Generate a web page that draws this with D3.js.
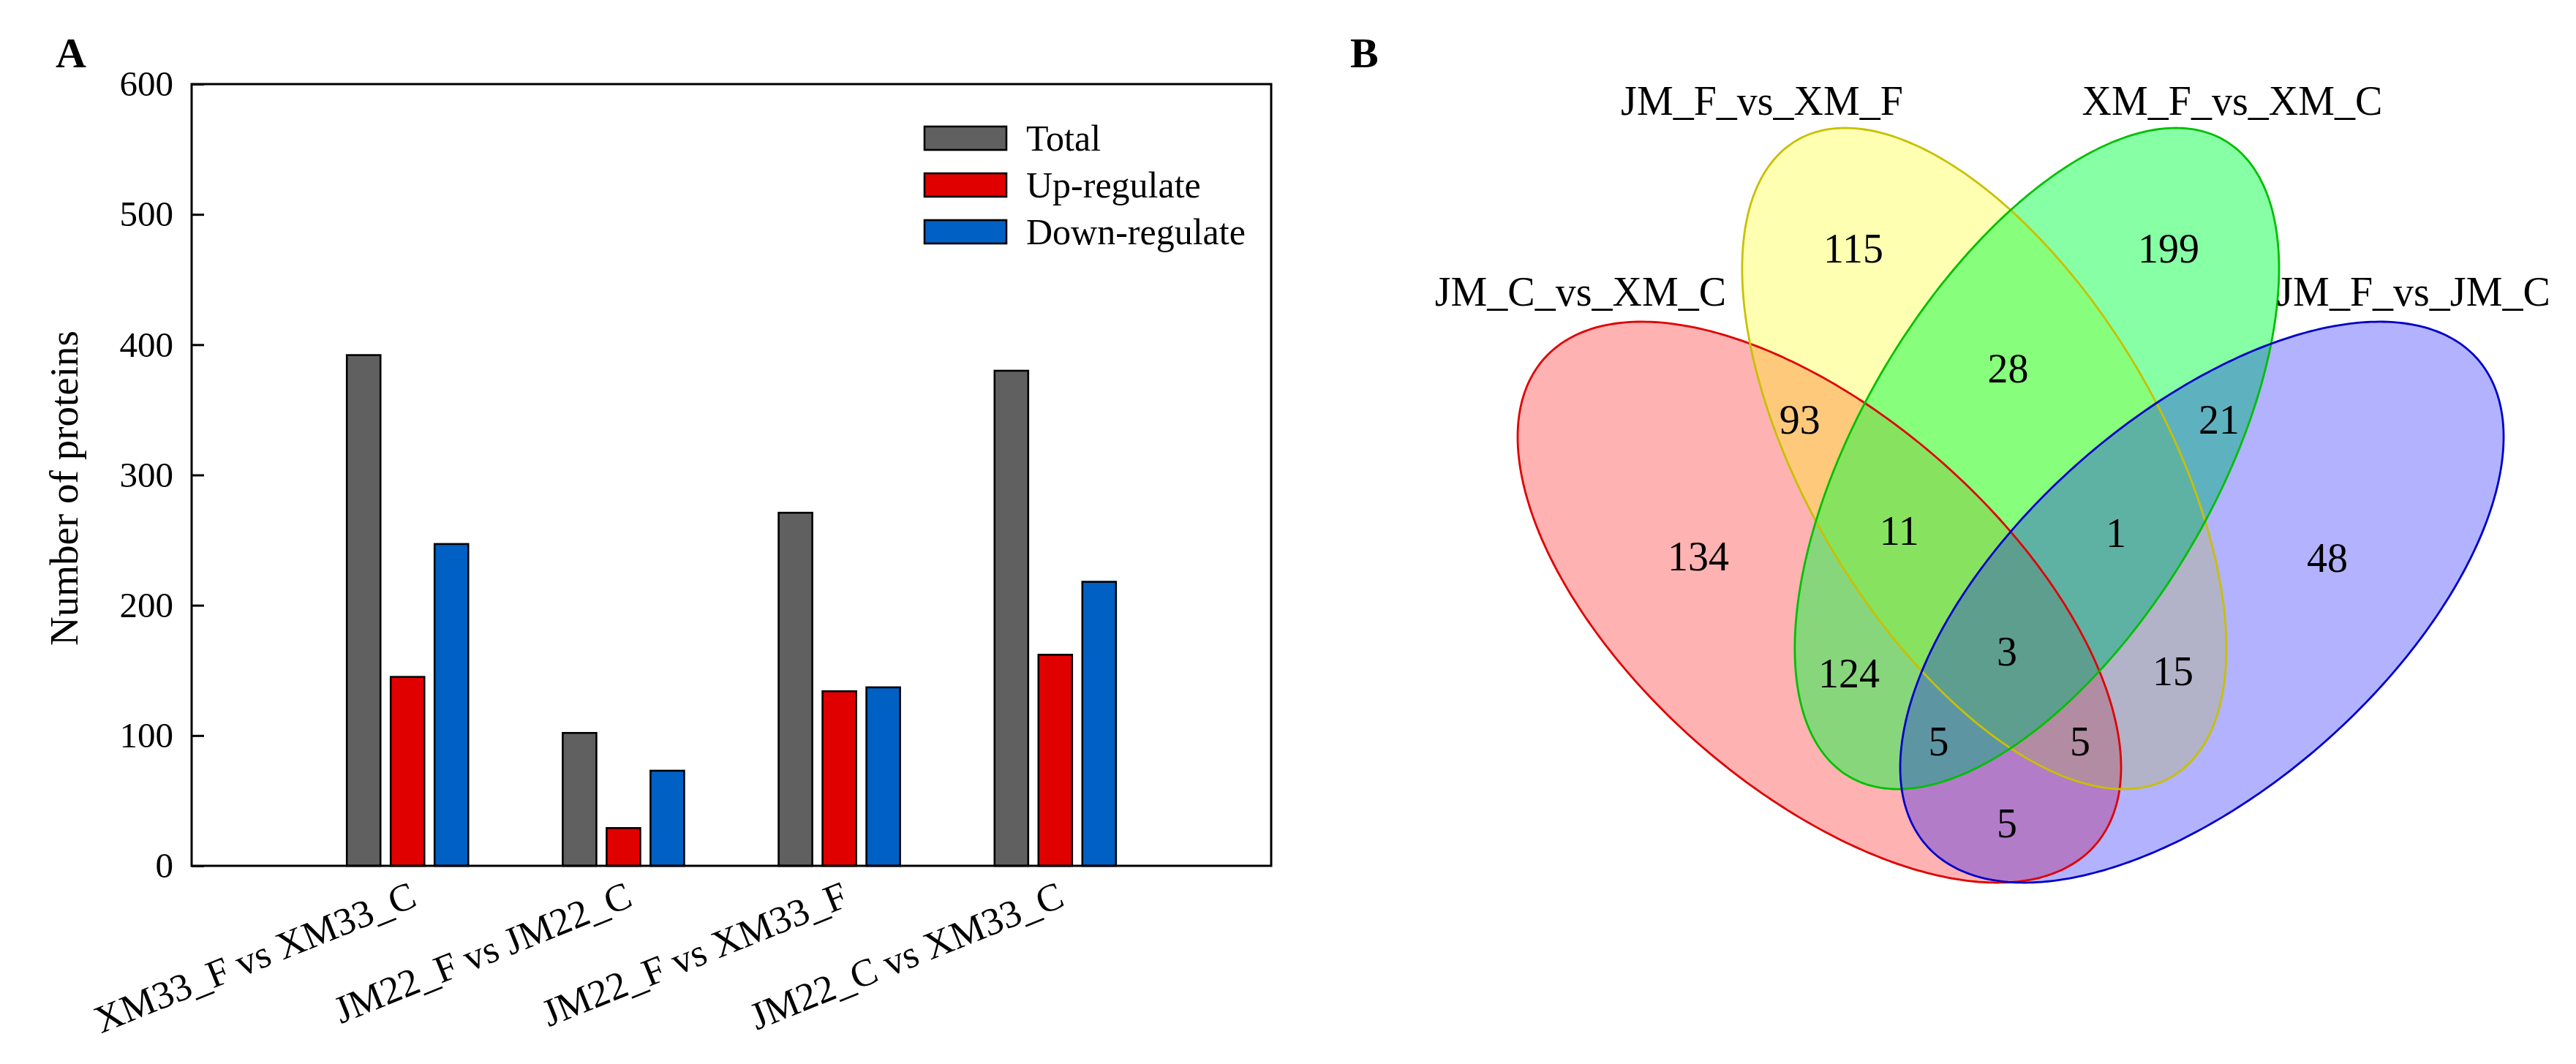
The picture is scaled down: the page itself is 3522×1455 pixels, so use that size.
<!DOCTYPE html>
<html>
<head>
<meta charset="utf-8">
<script src="https://cdn.jsdelivr.net/npm/d3@7"></script>
<style>
  body { margin: 0; background: #ffffff; }
  svg { display: block; }
  text { font-family: "Times New Roman", "Liberation Serif", serif; fill: #000; }
</style>
</head>
<body>
<svg id="chart" width="3522" height="1455"></svg>
<script>
// ---------------- DATA ----------------
const categories = ["XM33_F vs XM33_C", "JM22_F vs JM22_C", "JM22_F vs XM33_F", "JM22_C vs XM33_C"];
const seriesNames = ["Total", "Up-regulate", "Down-regulate"];
const totalValues = [392, 102, 271, 380];
const upValues = [145, 29, 134, 162];
const downValues = [247, 73, 137, 218];
const yTicks = [0, 100, 200, 300, 400, 500, 600];
const yTitle = "Number of proteins";

const vennSets = ["JM_C_vs_XM_C", "JM_F_vs_XM_F", "XM_F_vs_XM_C", "JM_F_vs_JM_C"];
const vennRegions = ["A", "B", "C", "D", "AB", "BC", "CD", "ABC", "BCD", "AC", "BD", "ABCD", "ACD", "ABD", "AD"];
const vennCounts = [134, 115, 199, 48, 93, 28, 21, 11, 1, 124, 15, 3, 5, 5, 5];

// ---------------- STYLE / LAYOUT ----------------
const seriesColors = ["#606060", "#e00000", "#0060c4"];
const vennFill = ["#ff0000", "#ffff00", "#00ff40", "#0000ff"];
const vennAlpha = [0.3, 0.3, 0.47, 0.3];
const vennStroke = ["#e00000", "#c8c000", "#00c000", "#0000c8"];
// ellipse geometry in normalised venn units (centre, half-width, half-height, x shift of top point)
const vennEllipses = [
  { cx: 0.3250, cy: 0.6029, hw: 0.2750, hh: 0.3196, top: -0.1620 },
  { cx: 0.4753, cy: 0.4392, hw: 0.2207, hh: 0.3767, top: -0.1267 },
  { cx: 0.5233, cy: 0.4392, hw: 0.2207, hh: 0.3767, top:  0.1267 },
  { cx: 0.6737, cy: 0.6029, hw: 0.2750, hh: 0.3196, top:  0.1620 }
];
const vennSetLabelPos = [[0.1073, 0.2650], [0.2727, 0.0475], [0.7013, 0.0475], [0.8667, 0.2650]];
const vennCountPos = [
  [0.2147, 0.5514], [0.3560, 0.2006], [0.6433, 0.2008], [0.7880, 0.5533],
  [0.3071, 0.3958], [0.4970, 0.3375], [0.6893, 0.3954], [0.3978, 0.5225],
  [0.5953, 0.5247], [0.3520, 0.6850], [0.6473, 0.6817], [0.4960, 0.6600],
  [0.4337, 0.7625], [0.5627, 0.7625], [0.4960, 0.8558]
];

const svg = d3.select("#chart");
svg.append("rect").attr("width", 3522).attr("height", 1455).attr("fill", "#fff");

// ---------------- PANEL A ----------------
const plot = { left: 262, right: 1738, top: 115, bottom: 1184 };
const x = d3.scalePoint().domain(categories).range([plot.left, plot.right]).padding(1);
const y = d3.scaleLinear().domain([0, 600]).range([plot.bottom, plot.top]);
const xs = d3.scaleBand().domain(seriesNames).range([-83, 83]).paddingInner(1 - 46 / 60).paddingOuter(0);

const seriesValues = [totalValues, upValues, downValues];
const barData = [];
categories.forEach((c, i) => seriesNames.forEach((s, j) => barData.push({ c, s, j, v: seriesValues[j][i] })));

svg.append("g").selectAll("rect").data(barData).join("rect")
  .attr("x", d => x(d.c) + xs(d.s))
  .attr("width", xs.bandwidth())
  .attr("y", d => y(d.v))
  .attr("height", d => y(0) - y(d.v))
  .attr("fill", d => seriesColors[d.j])
  .attr("stroke", "#000")
  .attr("stroke-width", 2.6);

// y axis (ticks inside)
const yAxis = svg.append("g").attr("transform", `translate(${plot.left},0)`)
  .call(d3.axisLeft(y).tickValues(yTicks).tickSizeInner(-17).tickSizeOuter(0).tickPadding(25));
yAxis.select(".domain").remove();
yAxis.selectAll("line").attr("stroke", "#000").attr("stroke-width", 3);
yAxis.selectAll("text")
  .attr("font-size", 49).attr("font-family", "'Times New Roman','Liberation Serif',serif")
  .attr("fill", "#000");

// frame
svg.append("rect")
  .attr("x", plot.left).attr("y", plot.top)
  .attr("width", plot.right - plot.left).attr("height", plot.bottom - plot.top)
  .attr("fill", "none").attr("stroke", "#000").attr("stroke-width", 3);

// x labels
svg.append("g").selectAll("text").data(categories).join("text")
  .attr("transform", d => `translate(${x(d) + 15},${plot.bottom + 54}) rotate(-22)`)
  .attr("text-anchor", "end")
  .attr("font-size", 53)
  .text(d => d);

// y title
svg.append("text")
  .attr("transform", `translate(106,${(plot.top + plot.bottom) / 2 + 18}) rotate(-90)`)
  .attr("text-anchor", "middle")
  .attr("font-size", 55)
  .text(yTitle);

// legend
const legend = svg.append("g").selectAll("g").data(seriesNames).join("g")
  .attr("transform", (d, i) => `translate(1264,${189 + i * 64})`);
legend.append("rect")
  .attr("x", 0).attr("y", -16).attr("width", 112).attr("height", 32)
  .attr("fill", (d, i) => seriesColors[i]).attr("stroke", "#000").attr("stroke-width", 2.6);
legend.append("text")
  .attr("x", 139).attr("dy", "0.33em").attr("font-size", 50)
  .text(d => d);

// panel letters
svg.append("text").attr("x", 76).attr("y", 92).attr("font-size", 58).attr("font-weight", "bold").text("A");
svg.append("text").attr("x", 1846).attr("y", 92).attr("font-size", 58).attr("font-weight", "bold").text("B");

// ---------------- PANEL B (Venn) ----------------
const vx = d3.scaleLinear().domain([0, 1]).range([2000, 3500]);
const vy = d3.scaleLinear().domain([0, 1]).range([100, 1300]);
const sx = vx(1) - vx(0), sy = vy(1) - vy(0);

function ellipsePoints(e) {
  const W = e.hw * sx, H = e.hh * sy, K = -e.top * sx * H;
  const Uy = K / W, Vy = Math.sqrt(H * H - Uy * Uy);
  return d3.range(0, 360, 1).map(a => {
    const t = a * Math.PI / 180;
    return { x: e.cx + (W * Math.cos(t)) / sx, y: e.cy + (Uy * Math.cos(t) + Vy * Math.sin(t)) / sy };
  });
}
const vline = d3.line().x(d => vx(d.x)).y(d => vy(d.y)).curve(d3.curveLinearClosed);

const venn = svg.append("g");
venn.selectAll("path.fill").data(vennEllipses).join("path")
  .attr("class", "fill")
  .attr("d", d => vline(ellipsePoints(d)))
  .attr("fill", (d, i) => vennFill[i])
  .attr("fill-opacity", (d, i) => vennAlpha[i])
  .attr("stroke", "none");
venn.selectAll("path.edge").data(vennEllipses).join("path")
  .attr("class", "edge")
  .attr("d", d => vline(ellipsePoints(d)))
  .attr("fill", "none")
  .attr("stroke", (d, i) => vennStroke[i])
  .attr("stroke-width", 2.8);

venn.selectAll("text.count").data(vennCounts).join("text")
  .attr("class", "count")
  .attr("x", (d, i) => vx(vennCountPos[i][0]))
  .attr("y", (d, i) => vy(vennCountPos[i][1]))
  .attr("dy", "0.33em")
  .attr("text-anchor", "middle")
  .attr("font-size", 56)
  .text(d => d);

venn.selectAll("text.setlabel").data(vennSets).join("text")
  .attr("class", "setlabel")
  .attr("x", (d, i) => vx(vennSetLabelPos[i][0]))
  .attr("y", (d, i) => vy(vennSetLabelPos[i][1]))
  .attr("text-anchor", "middle")
  .attr("font-size", 56)
  .text(d => d);
</script>
</body>
</html>
